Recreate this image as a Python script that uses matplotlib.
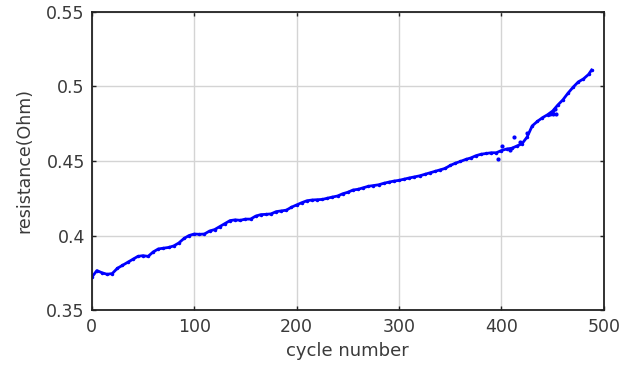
import matplotlib.pyplot as plt

# resistance, every 5 cycles
cycles = list(range(0, 490, 5)) + [488]
resistance = [
    0.3720, 0.3765, 0.3750, 0.3740, 0.3745, 0.3780, 0.3800, 0.3820, 0.3840, 0.3860,
    0.3865, 0.3860, 0.3890, 0.3910, 0.3915, 0.3920, 0.3930, 0.3950, 0.3980, 0.4000,
    0.4010, 0.4008, 0.4010, 0.4030, 0.4040, 0.4060, 0.4080, 0.4100, 0.4105, 0.4102,
    0.4110, 0.4110, 0.4130, 0.4140, 0.4142, 0.4145, 0.4160, 0.4165, 0.4170, 0.4190,
    0.4205, 0.4220, 0.4233, 0.4238, 0.4240, 0.4242, 0.4250, 0.4258, 0.4265, 0.4280,
    0.4290, 0.4305, 0.4310, 0.4320, 0.4330, 0.4335, 0.4340, 0.4350, 0.4358, 0.4365,
    0.4370, 0.4378, 0.4386, 0.4393, 0.4400, 0.4410, 0.4420, 0.4430, 0.4440, 0.4450,
    0.4470, 0.4485, 0.4497, 0.4510, 0.4520, 0.4535, 0.4545, 0.4550, 0.4555, 0.4555,
    0.4570, 0.4580, 0.4585, 0.4600, 0.4615, 0.4660, 0.4735, 0.4765, 0.4790, 0.4810,
    0.4835, 0.4875, 0.4910, 0.4955, 0.4995, 0.5030, 0.5050, 0.5080, 0.5110,
]

# scattered points off the main trend
scatter_cycles = [397, 401, 408, 412, 418, 425, 447, 450, 453, 452]
scatter_res = [0.4515, 0.4600, 0.4575, 0.4660, 0.4630, 0.4690, 0.4815, 0.4815, 0.4812, 0.4850]

x_ticks = [0, 100, 200, 300, 400, 500]
y_ticks = [0.35, 0.4, 0.45, 0.5, 0.55]
y_tick_labels = ["0.35", "0.4", "0.45", "0.5", "0.55"]

text_color = "#3a3a3a"
plt.rcParams["font.family"] = ["DejaVu Sans"]

fig = plt.figure(figsize=(6.2, 3.7), dpi=100)
ax = fig.add_axes([0.148, 0.162, 0.826, 0.806])

ax.plot(cycles, resistance, "-", color="#0000ff", lw=2.0, marker=".", markersize=3)
ax.plot(scatter_cycles, scatter_res, ".", color="#0000ff", markersize=4)

ax.set_xlim(0, 500)
ax.set_ylim(0.35, 0.55)
ax.set_xticks(x_ticks)
ax.set_yticks(y_ticks)
ax.set_yticklabels(y_tick_labels)
ax.tick_params(axis="both", direction="in", length=3, width=1, colors="#222222",
               labelsize=12.5, labelcolor=text_color, top=True, right=True)
ax.tick_params(axis="x", pad=6)
ax.tick_params(axis="y", pad=5)
ax.grid(True, color="#d4d4d4", lw=1)
ax.set_axisbelow(True)
for s in ax.spines.values():
    s.set_linewidth(1.3)
    s.set_color("#222222")

ax.set_xlabel("cycle number", fontsize=13, color=text_color, labelpad=4)
ax.set_ylabel("resistance(Ohm)", fontsize=12.5, color=text_color, labelpad=9)

fig.savefig("out.png", dpi=100)
